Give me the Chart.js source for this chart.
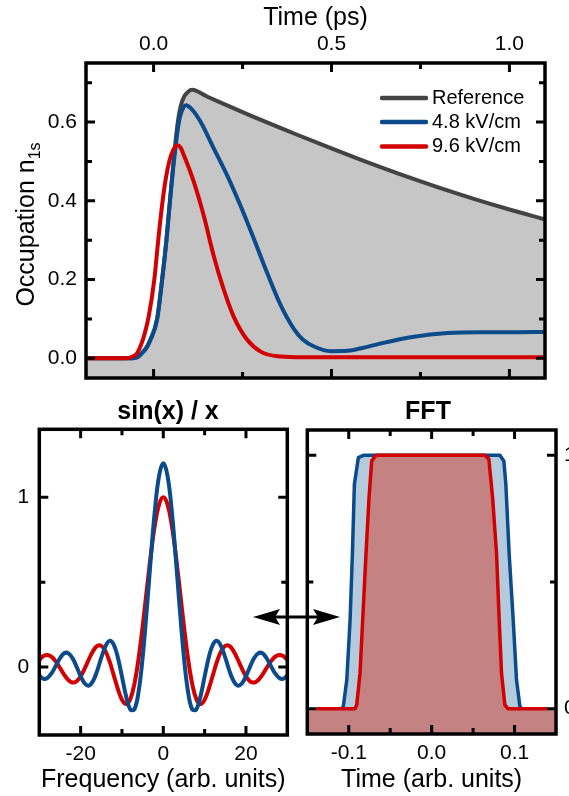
<!DOCTYPE html>
<html>
<head>
<meta charset="utf-8">
<script src="https://cdn.jsdelivr.net/npm/chart.js@4/dist/chart.umd.min.js"></script>
<style>
  html, body { margin: 0; padding: 0; background: #fff; }
  #wrap { position: relative; width: 569px; height: 796px; overflow: hidden; }
  #wrap canvas { position: absolute; }
  #arrow { position: absolute; left: 0; top: 0; }
</style>
</head>
<body>
<div id="wrap">
  <canvas id="occ" width="569" height="400" style="left:0;top:0"></canvas>
  <canvas id="sinc" width="300" height="401" style="left:0;top:395px"></canvas>
  <canvas id="fft" width="269" height="401" style="left:300px;top:395px"></canvas>
  <svg id="arrow" width="569" height="796">
    <line x1="272" y1="617" x2="322" y2="617" stroke="#000" stroke-width="3"/>
    <polygon points="253,617 280,609 275,617 280,625" fill="#000"/>
    <polygon points="340,617 313,609 318,617 313,625" fill="#000"/>
  </svg>
</div>
<script>
// ---- Occupation of the 1s state versus time ----
const occTimeRef = [-0.19, -0.06, -0.051, -0.042, -0.033, -0.02, -0.009, 0.0095, 0.024, 0.036, 0.046, 0.056, 0.068, 0.076, 0.086, 0.097, 0.108, 0.15, 0.2, 0.3, 0.4, 0.5, 0.6, 0.7, 0.8, 0.9, 1.0, 1.1];
const occRef     = [0, 0, 0.001, 0.005, 0.013, 0.027, 0.047, 0.098, 0.2, 0.3, 0.4, 0.5, 0.6, 0.64, 0.665, 0.677, 0.682, 0.665, 0.645, 0.606, 0.569, 0.533, 0.498, 0.465, 0.434, 0.405, 0.378, 0.353];

const occTime48 = [-0.19, -0.06, -0.051, -0.042, -0.033, -0.02, -0.009, 0.0095, 0.024, 0.036, 0.046, 0.057, 0.071, 0.08, 0.091, 0.105, 0.132, 0.169, 0.207, 0.244, 0.282, 0.319, 0.357, 0.394, 0.42, 0.451, 0.498, 0.545, 0.6, 0.639, 0.732, 0.826, 0.92, 1.0, 1.1];
const occ48     = [0, 0, 0.001, 0.005, 0.013, 0.027, 0.047, 0.098, 0.2, 0.3, 0.4, 0.5, 0.6, 0.63, 0.643, 0.635, 0.601, 0.533, 0.464, 0.388, 0.303, 0.217, 0.135, 0.075, 0.047, 0.03, 0.018, 0.019, 0.029, 0.038, 0.055, 0.064, 0.066, 0.066, 0.067];

const occTime96 = [-0.19, -0.08, -0.07, -0.06, -0.047, -0.035, -0.025, -0.014, 0.002, 0.013, 0.024, 0.034, 0.044, 0.054, 0.066, 0.076, 0.085, 0.113, 0.141, 0.169, 0.197, 0.225, 0.263, 0.301, 0.348, 0.4, 0.6, 0.8, 1.1];
const occ96     = [0, 0, 0.001, 0.004, 0.012, 0.035, 0.063, 0.105, 0.2, 0.3, 0.39, 0.455, 0.5, 0.527, 0.541, 0.535, 0.516, 0.448, 0.362, 0.26, 0.175, 0.106, 0.047, 0.017, 0.005, 0.003, 0.003, 0.003, 0.003];

const occTicksX = [0, 0.5, 1.0];
const occMinorX = [0.25, 0.75];
const occTicksY = [0, 0.2, 0.4, 0.6];
const occMinorY = [0.1, 0.3, 0.5, 0.7];

// ---- sin(x)/x spectra ----
const sincFreq = [-30, -29, -28, -27, -26, -25, -24, -23, -22, -21, -20, -19, -18, -17, -16, -15, -14, -13, -12, -11, -10, -9, -8, -7, -6, -5, -4, -3, -2, -1, 0,
                  1, 2, 3, 4, 5, 6, 7, 8, 9, 10, 11, 12, 13, 14, 15, 16, 17, 18, 19, 20, 21, 22, 23, 24, 25, 26, 27, 28, 29, 30];
const sincRed = [0.043, 0.065, 0.071, 0.060, 0.032, -0.005, -0.045, -0.076, -0.091, -0.084, -0.054, -0.008, 0.046, 0.094, 0.124, 0.125, 0.094, 0.033, -0.047, -0.128, -0.192, -0.217, -0.189, -0.100, 0.047, 0.239, 0.455, 0.665, 0.841, 0.959, 1.000,
                 0.959, 0.841, 0.665, 0.455, 0.239, 0.047, -0.100, -0.189, -0.217, -0.192, -0.128, -0.047, 0.033, 0.094, 0.125, 0.124, 0.094, 0.046, -0.008, -0.054, -0.084, -0.091, -0.076, -0.045, -0.005, 0.032, 0.060, 0.071, 0.065, 0.043];
const sincBlue = [-0.050, -0.069, -0.063, -0.035, 0.008, 0.052, 0.081, 0.082, 0.054, 0.003, -0.054, -0.097, -0.109, -0.082, -0.022, 0.055, 0.122, 0.154, 0.132, 0.057, -0.056, -0.172, -0.249, -0.249, -0.148, 0.056, 0.338, 0.649, 0.932, 1.129, 1.200,
                  1.129, 0.932, 0.649, 0.338, 0.056, -0.148, -0.249, -0.249, -0.172, -0.056, 0.057, 0.132, 0.154, 0.122, 0.055, -0.022, -0.082, -0.109, -0.097, -0.054, 0.003, 0.054, 0.082, 0.081, 0.052, 0.008, -0.035, -0.063, -0.069, -0.050];
const sincTicksX = [-20, 0, 20];
const sincMinorX = [-10, 10];
const sincTicksY = [0, 1];
const sincMinorY = [0.5];

// ---- FFT windows ----
const fftTimeBlue = [-0.139, -0.1085, -0.1065, -0.1024, -0.0984, -0.0956, -0.0932, -0.0884, -0.0824, 0.0823, 0.0871, 0.0895, 0.0935, 0.0984, 0.1024, 0.1064, 0.1085, 0.139];
const fftBlue     = [0, 0, 0.01, 0.113, 0.349, 0.611, 0.886, 0.991, 1.0, 1.0, 0.978, 0.886, 0.611, 0.349, 0.113, 0.01, 0, 0];
const fftTimeRed  = [-0.139, -0.0925, -0.0904, -0.0864, -0.0832, -0.0792, -0.0755, -0.0723, -0.0671, 0.0642, 0.069, 0.0735, 0.0783, 0.0815, 0.0843, 0.0883, 0.092, 0.139];
const fftRed      = [0, 0, 0.015, 0.139, 0.349, 0.611, 0.834, 0.978, 1.0, 1.0, 0.985, 0.834, 0.611, 0.349, 0.139, 0.015, 0, 0];
const fftBaseT    = [-0.15, 0.15];
const fftBase     = [0, 0];
const fftTicksX = [-0.1, 0, 0.1];
const fftMinorX = [-0.05, 0.05];
const fftTicksY = [0, 1];
const fftMinorY = [0.5];

const FONT = "'Liberation Sans', Arial, Helvetica, sans-serif";
Chart.defaults.font.family = FONT;
Chart.defaults.color = '#000';

const C_GREY = '#434343', C_GREY_FILL = '#c6c6c6';
const C_BLUE = '#0b4a8b', C_RED = '#d20000';
const C_BLUE_FILL = '#b3cbdc', C_RED_FILL = '#c48282';

const pts = (xs, ys) => xs.map((x, i) => ({ x: x, y: ys[i] }));
const tickList = arr => s => { s.ticks = arr.map(v => ({ value: v })); };

// Frame around the plot area, inward ticks on all four sides, optional heading
function boxPlugin(cfg) {
  return {
    id: 'box_' + cfg.name,
    afterDatasetsDraw(chart) {
      const { ctx, chartArea: a } = chart;
      const xs = chart.scales.x, ys = chart.scales[cfg.yScale];
      ctx.save();
      ctx.strokeStyle = '#000';
      ctx.lineWidth = 3;
      ctx.beginPath();
      const tx = (vals, len) => vals.forEach(v => {
        const p = xs.getPixelForValue(v);
        ctx.moveTo(p, a.top); ctx.lineTo(p, a.top + len);
        ctx.moveTo(p, a.bottom); ctx.lineTo(p, a.bottom - len);
      });
      const ty = (vals, len) => vals.forEach(v => {
        const p = ys.getPixelForValue(v);
        ctx.moveTo(a.left, p); ctx.lineTo(a.left + len, p);
        ctx.moveTo(a.right, p); ctx.lineTo(a.right - len, p);
      });
      tx(cfg.xMajor, 9); tx(cfg.xMinor, 6);
      ty(cfg.yMajor, 9); ty(cfg.yMinor, 6);
      ctx.stroke();
      ctx.lineWidth = 3.5;
      ctx.lineJoin = 'miter';
      ctx.strokeRect(a.left, a.top, a.right - a.left, a.bottom - a.top);
      if (cfg.heading) {
        ctx.fillStyle = '#000';
        ctx.font = 'bold 25px ' + FONT;
        ctx.textAlign = 'center';
        ctx.textBaseline = 'middle';
        ctx.fillText(cfg.heading, cfg.headingX, cfg.headingY);
      }
      ctx.restore();
    }
  };
}

// Rotated y title with subscript, and the line legend
const occExtras = {
  id: 'occExtras',
  afterDraw(chart) {
    const { ctx, chartArea: a } = chart;
    ctx.save();
    ctx.fillStyle = '#000';
    const main = 'Occupation n', sub = '1s';
    ctx.font = '25px ' + FONT;
    const wMain = ctx.measureText(main).width;
    ctx.font = '16px ' + FONT;
    const wSub = ctx.measureText(sub).width;
    const cy = (a.top + a.bottom) / 2 + 4;
    ctx.translate(33.5, cy);
    ctx.rotate(-Math.PI / 2);
    ctx.textBaseline = 'alphabetic';
    ctx.textAlign = 'left';
    const x0 = -(wMain + wSub) / 2;
    ctx.font = '25px ' + FONT;
    ctx.fillText(main, x0, 0);
    ctx.font = '16px ' + FONT;
    ctx.fillText(sub, x0 + wMain, 6);
    ctx.restore();

    ctx.save();
    ctx.font = '20px ' + FONT;
    ctx.textBaseline = 'middle';
    ctx.textAlign = 'left';
    ctx.lineCap = 'round';
    const rows = [35, 59, 83.5];
    chart.data.datasets.forEach((ds, i) => {
      const y = a.top + rows[i];
      ctx.strokeStyle = ds.borderColor;
      ctx.lineWidth = 4.5;
      ctx.beginPath();
      ctx.moveTo(a.right - 163, y);
      ctx.lineTo(a.right - 119, y);
      ctx.stroke();
      ctx.fillStyle = '#000';
      ctx.fillText(ds.label, a.right - 113, y);
    });
    ctx.restore();
  }
};

const baseOpts = {
  responsive: false,
  animation: false,
  devicePixelRatio: 1,
  events: [],
  plugins: { legend: { display: false }, tooltip: { enabled: false } },
  elements: { point: { radius: 0 } }
};
const hidden = { grid: { display: false, drawTicks: false }, border: { display: false } };

// Top panel
new Chart(document.getElementById('occ'), {
  type: 'line',
  data: {
    datasets: [
      { label: 'Reference', data: pts(occTimeRef, occRef), borderColor: C_GREY, backgroundColor: C_GREY_FILL,
        fill: 'start', borderWidth: 4, cubicInterpolationMode: 'monotone', order: 3 },
      { label: '4.8 kV/cm', data: pts(occTime48, occ48), borderColor: C_BLUE, fill: false,
        borderWidth: 4, cubicInterpolationMode: 'monotone', order: 2 },
      { label: '9.6 kV/cm', data: pts(occTime96, occ96), borderColor: C_RED, fill: false,
        borderWidth: 4, cubicInterpolationMode: 'monotone', order: 1 }
    ]
  },
  options: Object.assign({}, baseOpts, {
    layout: { padding: 0 },
    scales: {
      x: Object.assign({ type: 'linear', min: -0.19, max: 1.1, position: 'bottom',
        ticks: { display: false }, afterFit: s => { s.height = 22; } }, hidden),
      xTop: Object.assign({ type: 'linear', min: -0.19, max: 1.1, position: 'top',
        afterBuildTicks: tickList(occTicksX),
        ticks: { padding: 6, font: { size: 21 }, maxRotation: 0, autoSkip: false, callback: v => v.toFixed(1) },
        title: { display: true, text: 'Time (ps)', font: { size: 25 }, padding: { top: 3, bottom: 0 } },
        afterFit: s => { s.height = 63; } }, hidden),
      y: Object.assign({ type: 'linear', min: -0.05, max: 0.75, position: 'left',
        afterBuildTicks: tickList(occTicksY),
        ticks: { padding: 9, font: { size: 21 }, callback: v => v.toFixed(1) },
        afterFit: s => { s.width = 86; } }, hidden),
      yRight: Object.assign({ type: 'linear', min: -0.05, max: 0.75, position: 'right',
        ticks: { display: false }, afterFit: s => { s.width = 24; } }, hidden)
    }
  }),
  plugins: [boxPlugin({ name: 'occ', yScale: 'y', xMajor: occTicksX, xMinor: occMinorX, yMajor: occTicksY, yMinor: occMinorY }), occExtras]
});

// Bottom-left panel
new Chart(document.getElementById('sinc'), {
  type: 'line',
  data: {
    datasets: [
      { label: '4.8 kV/cm', data: pts(sincFreq, sincBlue), borderColor: C_BLUE, fill: false, borderWidth: 4, tension: 0.4, order: 1 },
      { label: '9.6 kV/cm', data: pts(sincFreq, sincRed), borderColor: C_RED, fill: false, borderWidth: 4, tension: 0.4, order: 2 }
    ]
  },
  options: Object.assign({}, baseOpts, {
    layout: { padding: { top: 34.3, right: 12.7, left: 0, bottom: 0 } },
    scales: {
      x: Object.assign({ type: 'linear', min: -30, max: 30, position: 'bottom',
        afterBuildTicks: tickList(sincTicksX),
        ticks: { padding: 7, font: { size: 21 }, maxRotation: 0, autoSkip: false, callback: v => String(v) },
        title: { display: true, text: 'Frequency (arb. units)', font: { size: 25 }, padding: { top: 0, bottom: 1 } },
        afterFit: s => { s.height = 61; } }, hidden),
      y: Object.assign({ type: 'linear', min: -0.4, max: 1.4, position: 'left',
        afterBuildTicks: tickList(sincTicksY),
        ticks: { padding: 10, font: { size: 21 }, callback: v => String(v) },
        afterFit: s => { s.width = 39.3; } }, hidden)
    }
  }),
  plugins: [boxPlugin({ name: 'sinc', yScale: 'y', xMajor: sincTicksX, xMinor: sincMinorX, yMajor: sincTicksY, yMinor: sincMinorY,
    heading: 'sin(x) / x', headingX: 168, headingY: 17 })]
});

// Bottom-right panel
new Chart(document.getElementById('fft'), {
  type: 'line',
  data: {
    datasets: [
      { label: '9.6 kV/cm', data: pts(fftTimeRed, fftRed), borderColor: C_RED, backgroundColor: C_RED_FILL,
        fill: 'start', borderWidth: 3.5, tension: 0, borderJoinStyle: 'round', order: 1 },
      { label: 'base', data: pts(fftBaseT, fftBase), borderWidth: 0, borderColor: 'rgba(0,0,0,0)', backgroundColor: C_RED_FILL,
        fill: 'start', tension: 0, order: 2 },
      { label: '4.8 kV/cm', data: pts(fftTimeBlue, fftBlue), borderColor: C_BLUE, backgroundColor: C_BLUE_FILL,
        fill: 'start', borderWidth: 3.5, tension: 0, borderJoinStyle: 'round', order: 3 }
    ]
  },
  options: Object.assign({}, baseOpts, {
    layout: { padding: { top: 35, left: 7.3, right: 0, bottom: 0 } },
    scales: {
      x: Object.assign({ type: 'linear', min: -0.15, max: 0.15, position: 'bottom',
        afterBuildTicks: tickList(fftTicksX),
        ticks: { padding: 7, font: { size: 21 }, maxRotation: 0, autoSkip: false, callback: v => v.toFixed(1) },
        title: { display: true, text: 'Time (arb. units)', font: { size: 25 }, padding: { top: 0, bottom: 1 } },
        afterFit: s => { s.height = 62; } }, hidden),
      y: Object.assign({ type: 'linear', min: -0.1, max: 1.1, position: 'right',
        afterBuildTicks: tickList(fftTicksY),
        ticks: { padding: 8, font: { size: 21 }, callback: v => String(v) },
        afterFit: s => { s.width = 13; } }, hidden)
    }
  }),
  plugins: [boxPlugin({ name: 'fft', yScale: 'y', xMajor: fftTicksX, xMinor: fftMinorX, yMajor: fftTicksY, yMinor: fftMinorY,
    heading: 'FFT', headingX: 128, headingY: 17 })]
});
</script>
</body>
</html>
